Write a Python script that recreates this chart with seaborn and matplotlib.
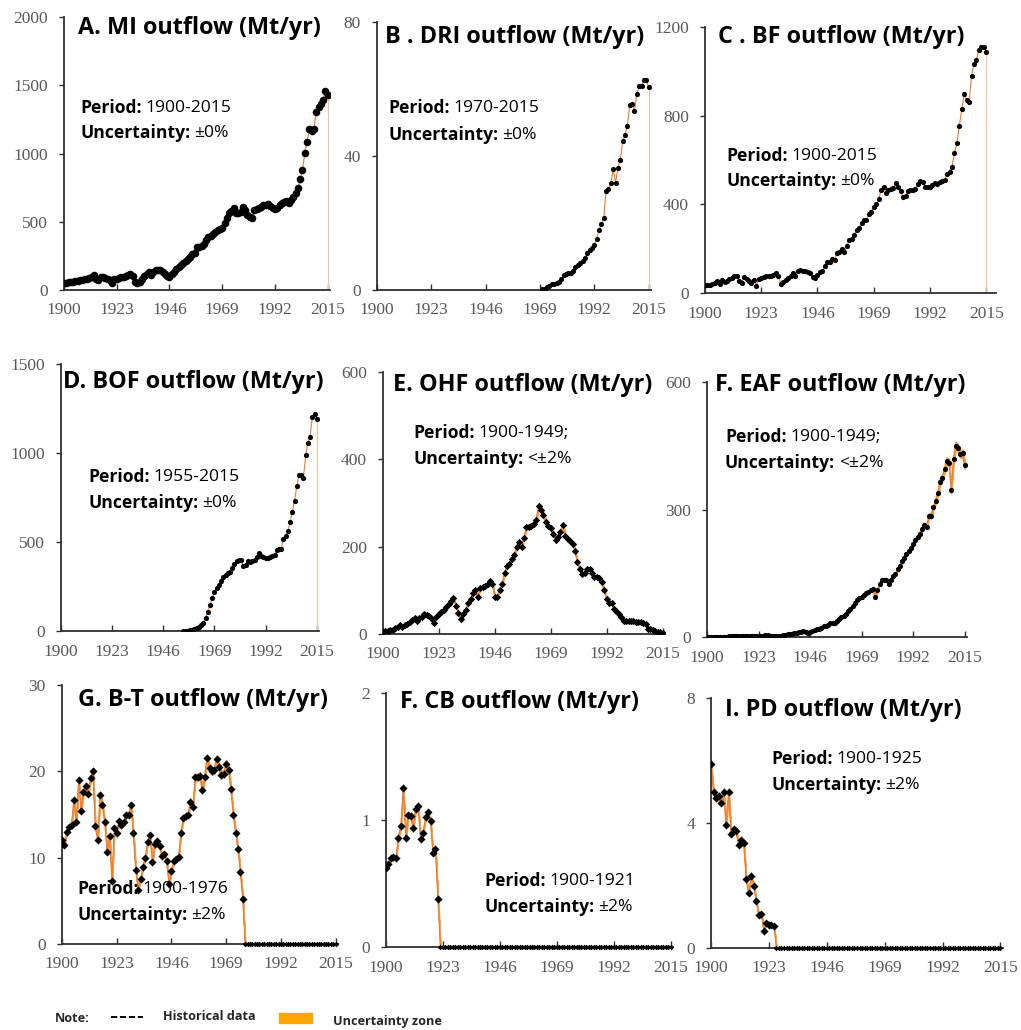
import numpy as np
import pandas as pd
import matplotlib
matplotlib.use("Agg")
import matplotlib.pyplot as plt
import seaborn as sns

# ---------------- data ----------------
XTICKS = [1900, 1923, 1946, 1969, 1992, 2015]

MI_START = 1900
MI = [50, 52, 55, 58, 60, 65, 68, 75, 72, 78,
      82, 88, 92, 108, 80, 75, 95, 92, 85, 78,
      72, 50, 78, 82, 88, 92, 95, 100, 108, 120,
      100, 62, 50, 62, 80, 100, 115, 132, 112, 130,
      145, 150, 148, 135, 115, 102, 98, 115, 135, 155,
      172, 185, 200, 210, 225, 245, 265, 270, 315, 318,
      320, 340, 365, 390, 395, 410, 425, 440, 450, 455,
      488, 524, 561, 580, 598, 561, 566, 573, 610, 585,
      549, 537, 524, 585, 590, 600, 610, 620, 625, 630,
      615, 600, 590, 600, 620, 635, 645, 650, 640, 660,
      683, 707, 744, 810, 878, 1005, 1085, 1183, 1163, 1183,
      1305, 1341, 1361, 1390, 1458, 1427]

DRI_START = 1970
DRI = [0.2, 0.4, 0.8, 1.2, 1.8, 1.8, 2.0, 2.4, 3.4, 4.4,
       4.8, 5.2, 5.0, 5.8, 6.8, 7.6, 8.2, 8.7, 9.6, 10.9,
       11.8, 12.6, 13.4, 15.3, 17.8, 19.8, 21.5, 29.7, 30.2, 31.8,
       36.0, 32.0, 36.5, 38.8, 44.4, 46.3, 49.0, 55.2, 55.6, 53.5,
       58.5, 60.8, 60.8, 62.8, 62.6, 60.5]

BF_START = 1900
BF = [35, 36, 38, 40, 45, 52, 42, 60, 48, 55,
      63, 67, 75, 78, 52, 45, 70, 63, 55, 45,
      60, 33, 63, 67, 70, 75, 75, 78, 82, 90,
      78, 40, 48, 60, 67, 78, 90, 78, 97, 102,
      97, 97, 94, 90, 70, 67, 82, 93, 97, 120,
      139, 142, 153, 150, 180, 187, 198, 187, 210, 240,
      243, 262, 285, 292, 318, 330, 330, 355, 365, 390,
      402, 423, 465, 480, 453, 465, 468, 472, 495, 477,
      460, 432, 438, 462, 465, 465, 468, 490, 505, 500,
      480, 477, 477, 487, 495, 490, 502, 505, 510, 537,
      547, 570, 630, 675, 753, 828, 897, 870, 862, 978,
      1035, 1052, 1097, 1109, 1112, 1087]

BOF_START = 1955
BOF = [0, 0, 2, 4, 8, 13, 18, 25, 33, 45,
       75, 109, 146, 184, 221, 240, 260, 280, 306, 315,
       324, 334, 352, 375, 396, 400, 400, 366, 371, 394,
       385, 392, 400, 418, 437, 422, 415, 409, 412, 415,
       422, 428, 456, 460, 462, 518, 531, 559, 610, 668,
       732, 812, 878, 878, 859, 987, 1056, 1090, 1203, 1221,
       1193]

OHF_START = 1900
OHF = [5, 6, 8, 9, 10, 13, 17, 20, 15, 20,
       23, 27, 33, 37, 30, 37, 40, 45, 43, 42,
       35, 25, 40, 45, 50, 55, 62, 68, 75, 82,
       65, 48, 35, 45, 55, 70, 80, 95, 100, 85,
       105, 108, 110, 115, 122, 115, 85, 85, 100, 115,
       140, 155, 160, 172, 180, 200, 210, 200, 220, 245,
       246, 248, 253, 261, 292, 284, 272, 257, 247, 242,
       230, 215, 221, 234, 250, 224, 217, 212, 206, 190,
       165, 150, 137, 140, 150, 148, 140, 130, 130, 128,
       118, 100, 80, 72, 70, 58, 52, 45, 38, 30,
       30, 30, 29, 29, 28, 28, 27, 26, 22, 12,
       12, 10, 8, 5, 4, 2]

EAF_START = 1900
EAF = [1, 1, 1, 1, 1, 1, 1, 1, 1, 1,
       2, 2, 2, 2, 2, 2, 2, 2, 2, 2,
       2, 2, 3, 3, 3, 3, 4, 4, 3, 3,
       3, 2, 2, 3, 4, 5, 6, 7, 8, 9,
       10, 12, 12, 13, 11, 9, 12, 14, 16, 18,
       20, 22, 25, 27, 28, 32, 33, 34, 38, 43,
       47, 50, 55, 62, 67, 73, 80, 88, 92, 95,
       100, 103, 107, 110, 112, 95, 110, 125, 133, 135,
       133, 125, 133, 143, 148, 160, 168, 178, 185, 195,
       203, 210, 218, 228, 236, 243, 254, 263, 260, 285,
       285, 305, 320, 340, 365, 375, 395, 415, 410, 345,
       420, 450, 445, 430, 432, 405]

BT_START = 1900
BT = [12.0, 11.5, 13.0, 13.6, 13.8, 16.7, 14.1, 19.0, 15.4, 17.6,
      18.3, 17.4, 19.2, 20.0, 13.7, 12.1, 17.3, 16.1, 14.1, 10.7,
      12.5, 7.3, 13.4, 12.9, 14.2, 13.8, 14.1, 15.0, 14.9, 16.1,
      12.8, 8.6, 6.3, 7.5, 8.9, 10.0, 11.8, 12.6, 9.5, 11.6,
      11.9, 11.4, 10.2, 10.4, 9.6, 6.9, 8.5, 9.6, 9.9, 10.1,
      12.9, 14.6, 14.8, 15.0, 16.5, 15.9, 19.3, 19.3, 19.5, 17.8,
      19.4, 21.5, 20.4, 20.0, 20.1, 21.4, 20.5, 19.6, 19.7, 20.9,
      20.2, 18.0, 15.0, 12.9, 11.0, 8.3, 5.2]
BT_ZERO_YEARS = list(range(1977, 2016))

CB_START = 1900
CB = [0.62, 0.65, 0.70, 0.71, 0.70, 0.86, 0.95, 1.25, 0.86, 1.04,
      1.03, 0.94, 1.09, 1.11, 0.85, 0.90, 1.02, 1.06, 0.99, 0.74,
      0.77, 0.38]
CB_ZERO_YEARS = list(range(1922, 2016))

PD_START = 1900
PD = [5.9, 5.0, 4.8, 4.85, 4.65, 5.0, 3.95, 5.0, 3.65, 3.8,
      3.75, 3.3, 3.45, 3.35, 2.2, 1.75, 2.3, 2.0, 1.5, 1.05,
      1.1, 0.55, 0.8, 0.75, 0.75, 0.72]
PD_ZERO_YEARS = list(range(1926, 2016))

TITLES = ["A. MI outflow (Mt/yr)", "B . DRI outflow (Mt/yr)", "C . BF outflow (Mt/yr)",
          "D. BOF outflow (Mt/yr)", "E. OHF outflow (Mt/yr)", "F. EAF outflow (Mt/yr)",
          "G. B-T outflow (Mt/yr)", "F. CB outflow (Mt/yr)", "I. PD outflow (Mt/yr)"]
PERIODS = ["1900-2015", "1970-2015", "1900-2015", "1955-2015", "1900-1949;",
           "1900-1949;", "1900-1976", "1900-1921", "1900-1925"]
UNCERT = ["\u00b10%", "\u00b10%", "\u00b10%", "\u00b10%", "<\u00b12%", "<\u00b12%",
          "\u00b12%", "\u00b12%", "\u00b12%"]
UNC_FRAC = [0, 0, 0, 0, 0.02, 0.02, 0.02, 0.02, 0.02]
YMAX = [2000, 80, 1200, 1500, 600, 600, 30, 2, 8]
YSTEP = [500, 40, 400, 500, 200, 300, 10, 1, 4]

SERIES = [(MI_START, MI, []), (DRI_START, DRI, []), (BF_START, BF, []),
          (BOF_START, BOF, []), (OHF_START, OHF, []), (EAF_START, EAF, []),
          (BT_START, BT, BT_ZERO_YEARS), (CB_START, CB, CB_ZERO_YEARS),
          (PD_START, PD, PD_ZERO_YEARS)]

# ---------------- layout / style ----------------
W, H = 1021, 1030
# axes rectangles in pixels: left, top, right, bottom, xmax
RECTS = [(64, 17, 330, 290, 2016), (377, 22, 651, 290, 2016), (705, 27, 996, 293, 2019),
         (61, 364, 319, 631, 2016), (383, 372, 665, 634, 2016), (707, 382, 967, 637, 2016),
         (62, 685, 338, 944, 2016), (386, 693, 673, 947, 2016), (711, 698, 1003, 948, 2016)]
TITLE_POS = [(78, 28), (385, 37), (718, 37), (63, 382), (393, 385), (715, 385),
             (78, 700), (400, 702), (725, 710)]
TEXT_POS = [(80, 108, 133), (388, 108, 135), (726, 156, 181), (88, 477, 503),
            (413, 433, 459), (725, 437, 463), (77, 889, 915), (484, 881, 907),
            (771, 759, 785)]
MARKERS = ["o", "o", "o", "o", "D", "o", "D", "D", "D"]
MSIZE = [30, 14, 14, 14, 14, 14, 17, 17, 17]
START_LINE = [False] * 6 + [True] * 3
END_LINE = [True] * 4 + [False] * 5

LINE_C = "#ED7D31"
BAND_C = "#F4A04E"
THIN_C = "#F6C09A"
TICK_C = "#595959"
SANS = ["Open Sans", "DejaVu Sans"]

sns.set_theme(style="ticks")
plt.rcParams["font.family"] = ["Liberation Serif", "DejaVu Serif"]

fig = plt.figure(figsize=(W / 100, H / 100), dpi=100)
renderer = fig.canvas.get_renderer()


def fx(x):
    return x / W


def fy(y):
    return 1 - y / H


def rich(x, y, bold, normal, size):
    t1 = fig.text(fx(x), fy(y), bold, fontsize=size, fontweight="bold",
                  family=SANS, va="center", ha="left", color="black")
    bb = t1.get_window_extent(renderer)
    fig.text(bb.x1 / W + 4 / W, fy(y), normal, fontsize=size,
             family=SANS, va="center", ha="left", color="black")


for i in range(9):
    l, t, r, b, xmax = RECTS[i]
    ax = fig.add_axes([fx(l), fy(b), (r - l) / W, (b - t) / H])
    start, vals, zeros = SERIES[i]
    years = np.arange(start, start + len(vals))
    v = np.array(vals, dtype=float)
    all_years = np.concatenate([years, np.array(zeros, dtype=int)])
    all_vals = np.concatenate([v, np.zeros(len(zeros))])
    df = pd.DataFrame({"year": all_years, "value": all_vals})

    if UNC_FRAC[i] > 0:
        ax.fill_between(df["year"], df["value"] * (1 - UNC_FRAC[i]),
                        df["value"] * (1 + UNC_FRAC[i]), color=BAND_C,
                        linewidth=1.2, edgecolor=BAND_C, zorder=1)
    sns.lineplot(data=df, x="year", y="value", ax=ax, color=LINE_C,
                 linewidth=0.8, errorbar=None, legend=False, zorder=2)
    if END_LINE[i]:
        ax.vlines(years[-1], 0, v[-1], color=THIN_C, linewidth=0.8, zorder=1)
    if START_LINE[i]:
        ax.vlines(years[0], 0, v[0], color=THIN_C, linewidth=0.8, zorder=1)
    sns.scatterplot(x=years, y=v, ax=ax, marker=MARKERS[i], s=MSIZE[i],
                    color="black", linewidth=0, zorder=3, legend=False)
    if zeros:
        sns.scatterplot(x=np.array(zeros), y=np.zeros(len(zeros)), ax=ax,
                        marker="D", s=8, color="black", linewidth=0,
                        zorder=3, legend=False, clip_on=False)

    ax.set_xlim(1900, xmax)
    ax.set_ylim(0, YMAX[i])
    ax.set_xticks(XTICKS)
    ax.set_xticklabels([str(x) for x in XTICKS])
    yt = np.arange(0, YMAX[i] + YSTEP[i] / 2, YSTEP[i])
    ax.set_yticks(yt)
    ax.set_yticklabels([f"{int(y)}" for y in yt])
    ax.set_xlabel("")
    ax.set_ylabel("")
    ax.set_facecolor("none")
    for s in ["top", "right"]:
        ax.spines[s].set_visible(False)
    for s in ["left", "bottom"]:
        ax.spines[s].set_color("#303030")
        ax.spines[s].set_linewidth(1.3)
    ax.tick_params(axis="x", direction="in", length=4, width=1, pad=9,
                   labelsize=12.5, labelcolor=TICK_C, color="#303030")
    ax.tick_params(axis="y", direction="out", length=3.6, width=1, pad=8,
                   labelsize=12.5, labelcolor=TICK_C, color="#303030")

    tx, ty = TITLE_POS[i]
    fig.text(fx(tx), fy(ty), TITLES[i], fontsize=16.8, fontweight="bold",
             family=SANS, va="center", ha="left", color="black")
    px, py1, py2 = TEXT_POS[i]
    rich(px, py1, "Period:", PERIODS[i], 12.6)
    rich(px, py2, "Uncertainty:", UNCERT[i], 12.6)

# footer legend
FOOT = 9.1
fig.text(fx(55), fy(1018), "Note:", fontsize=FOOT, fontweight="bold", family=SANS,
         va="center", ha="left")
fig.add_artist(matplotlib.lines.Line2D([fx(111), fx(143)], [fy(1017), fy(1017)],
                                       transform=fig.transFigure, color="black",
                                       linewidth=1.4, linestyle=(0, (3.2, 1.4))))
fig.text(fx(163), fy(1017), "Historical data", fontsize=FOOT, fontweight="bold",
         family=SANS, va="center", ha="left")
fig.patches.append(matplotlib.patches.Rectangle((fx(279), fy(1023)), 33 / W, 10 / H,
                                                transform=fig.transFigure,
                                                color="#FFA500", figure=fig))
fig.text(fx(333), fy(1021), "Uncertainty zone", fontsize=FOOT, fontweight="bold",
         family=SANS, va="center", ha="left")

fig.savefig("out.png", dpi=100, facecolor="white")
